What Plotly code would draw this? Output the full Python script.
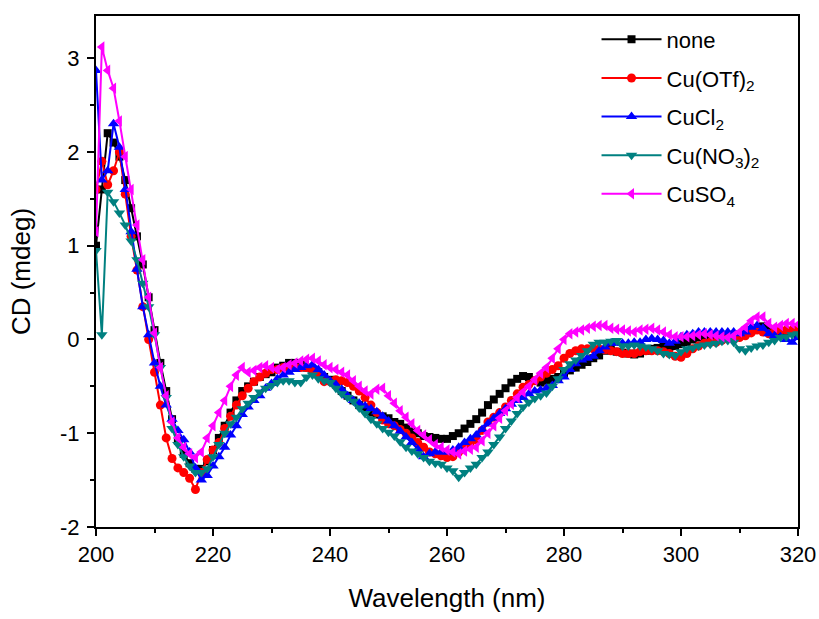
import plotly.graph_objects as go

wavelength = list(range(200, 321))

none_cd = [1.0, 1.6, 2.2, 2.1, 1.95, 1.7, 1.4, 1.1, 0.8, 0.45,
           0.1, -0.25, -0.55, -0.85, -1.08, -1.22, -1.32, -1.38, -1.38, -1.3,
           -1.18, -1.05, -0.92, -0.78, -0.65, -0.55, -0.5, -0.45, -0.4, -0.37,
           -0.35, -0.3, -0.28, -0.25, -0.25, -0.27, -0.3, -0.32, -0.35, -0.4,
           -0.43, -0.48, -0.55, -0.6, -0.65, -0.7, -0.74, -0.78, -0.8, -0.82,
           -0.84, -0.88, -0.9, -0.94, -0.98, -1.0, -1.03, -1.04, -1.05, -1.06,
           -1.06, -1.03, -1.0, -0.95, -0.9, -0.85, -0.78, -0.7, -0.64, -0.58,
           -0.52, -0.46, -0.42, -0.39, -0.4, -0.44, -0.46, -0.44, -0.42, -0.4,
           -0.36, -0.33, -0.3, -0.27, -0.24, -0.2, -0.17, -0.12, -0.1, -0.13,
           -0.14, -0.15, -0.16, -0.15, -0.12, -0.1, -0.09, -0.08, -0.08, -0.07,
           -0.05, -0.03, 0.0, 0.02, 0.03, 0.03, 0.02, 0.03, 0.04, 0.05,
           0.05, 0.07, 0.1, 0.12, 0.14, 0.1, 0.06, 0.05, 0.07, 0.08,
           0.05]

cuotf2_cd = [1.6, 1.9, 1.65, 1.8, 2.0, 1.55, 1.1, 0.74, 0.35, 0.0,
             -0.35, -0.7, -1.05, -1.27, -1.37, -1.42, -1.48, -1.6, -1.42, -1.28,
             -1.18, -1.1, -0.95, -0.82, -0.7, -0.6, -0.52, -0.45, -0.4, -0.36,
             -0.32, -0.32, -0.3, -0.3, -0.3, -0.3, -0.3, -0.32, -0.38, -0.45,
             -0.45, -0.43, -0.44, -0.46, -0.5, -0.55, -0.62, -0.7, -0.78, -0.86,
             -0.9, -0.92, -0.96, -1.0, -1.05, -1.1, -1.15, -1.2, -1.22, -1.24,
             -1.26, -1.25, -1.2, -1.15, -1.1, -1.07, -0.97, -0.88, -0.83, -0.78,
             -0.72, -0.65, -0.58, -0.51, -0.48, -0.44, -0.4, -0.36, -0.32, -0.28,
             -0.2, -0.15, -0.12, -0.1, -0.1, -0.1, -0.1, -0.11, -0.12, -0.13,
             -0.15, -0.15, -0.15, -0.13, -0.12, -0.12, -0.12, -0.13, -0.15, -0.18,
             -0.19, -0.15, -0.1, -0.07, -0.04, -0.03, -0.03, -0.01, 0.01, 0.02,
             0.02, 0.04, 0.07, 0.1, 0.08, 0.06, 0.08, 0.1, 0.1, 0.1,
             0.12]

cucl2_cd = [2.87, 1.7, 1.8, 2.3, 2.05, 1.6, 1.15, 0.75, 0.35, 0.05,
            -0.25, -0.5, -0.7, -0.85, -0.97, -1.07, -1.2, -1.37, -1.5, -1.45,
            -1.35, -1.25, -1.15, -1.02, -0.92, -0.8, -0.72, -0.65, -0.6, -0.52,
            -0.47, -0.42, -0.38, -0.35, -0.32, -0.3, -0.28, -0.27, -0.32, -0.38,
            -0.44, -0.48, -0.53, -0.6, -0.65, -0.68, -0.71, -0.74, -0.77, -0.82,
            -0.87, -0.92, -0.98, -1.04, -1.1, -1.17, -1.25, -1.22, -1.2, -1.2,
            -1.2, -1.18, -1.15, -1.1, -1.06, -1.02, -0.96, -0.9, -0.84, -0.79,
            -0.74, -0.69, -0.65, -0.62, -0.58, -0.55, -0.54, -0.52, -0.49, -0.44,
            -0.4, -0.32, -0.26, -0.22, -0.2, -0.18, -0.12, -0.08, -0.04, -0.04,
            -0.04, -0.04, -0.03, -0.03, 0.0, 0.01, 0.0, -0.01, -0.04, -0.02,
            0.03, 0.05, 0.06, 0.08, 0.08, 0.08, 0.08, 0.08, 0.08, 0.08,
            0.06, 0.08, 0.13, 0.15, 0.12, 0.06, 0.04, 0.03, 0.0, -0.03,
            0.02]

cuno32_cd = [0.95, 0.05, 1.57, 1.47, 1.35, 1.22, 1.05, 0.85, 0.6, 0.35,
             0.05, -0.3, -0.62, -0.95, -1.12, -1.25, -1.35, -1.42, -1.42, -1.38,
             -1.25, -1.12, -1.0, -0.9, -0.83, -0.74, -0.68, -0.62, -0.56, -0.52,
             -0.49, -0.46, -0.44, -0.44, -0.46, -0.46, -0.4, -0.38, -0.42, -0.44,
             -0.46, -0.52, -0.58, -0.62, -0.66, -0.73, -0.79, -0.85, -0.9, -0.95,
             -0.99, -1.03, -1.09, -1.15, -1.19, -1.22, -1.26, -1.3, -1.32, -1.33,
             -1.37, -1.4, -1.47, -1.42, -1.37, -1.33, -1.26, -1.2, -1.12, -1.04,
             -0.95, -0.87, -0.79, -0.72, -0.67, -0.63, -0.6, -0.57, -0.5, -0.42,
             -0.32, -0.26, -0.22, -0.17, -0.12, -0.05, -0.03, -0.03, -0.02, -0.01,
             -0.07, -0.07, -0.06, -0.07, -0.08, -0.1, -0.12, -0.15, -0.16, -0.17,
             -0.13, -0.1, -0.09, -0.07, -0.06, -0.05, -0.04, -0.02, -0.01, -0.03,
             -0.1, -0.12, -0.09, -0.07, -0.06, -0.03, -0.01, 0.02, 0.03, 0.05,
             0.06]

cuso4_cd = [1.15, 3.12, 2.87, 2.68, 2.33, 1.95, 1.6, 1.22, 0.85, 0.45,
            0.07, -0.3, -0.6, -0.88, -1.05, -1.15, -1.22, -1.26, -1.2, -1.05,
            -0.92, -0.78, -0.65, -0.5, -0.38, -0.3, -0.35, -0.33, -0.3, -0.28,
            -0.3, -0.32, -0.3, -0.27, -0.25, -0.23, -0.21, -0.2, -0.23, -0.27,
            -0.3, -0.32, -0.35, -0.38, -0.44, -0.5, -0.55, -0.58, -0.53, -0.52,
            -0.6, -0.68, -0.76, -0.83, -0.9, -0.97, -1.02, -1.07, -1.12, -1.15,
            -1.18, -1.2, -1.22, -1.19, -1.17, -1.15, -1.08, -1.0, -0.92, -0.84,
            -0.76, -0.69, -0.62, -0.56, -0.5, -0.43, -0.36, -0.3, -0.2, -0.1,
            0.0, 0.06, 0.08, 0.1, 0.12, 0.14, 0.15, 0.15, 0.12, 0.11,
            0.1, 0.09, 0.08, 0.1, 0.11, 0.12, 0.1, 0.08, 0.05, 0.03,
            0.03, 0.03, 0.04, 0.05, 0.06, 0.05, 0.04, 0.03, 0.02, 0.04,
            0.08, 0.13, 0.2, 0.24, 0.24, 0.17, 0.13, 0.15, 0.17, 0.17,
            0.16]

series_names = ["none", "Cu(OTf)<sub>2</sub>", "CuCl<sub>2</sub>",
                "Cu(NO<sub>3</sub>)<sub>2</sub>", "CuSO<sub>4</sub>"]
series_values = [none_cd, cuotf2_cd, cucl2_cd, cuno32_cd, cuso4_cd]
series_colors = ["#000000", "#FF0000", "#0000FF", "#008080", "#FF00FF"]
series_symbols = ["square", "circle", "triangle-up", "triangle-down", "triangle-left"]
series_sizes = [8, 9, 10, 10, 10]

x_ticks = [200, 220, 240, 260, 280, 300, 320]
y_ticks = [-2, -1, 0, 1, 2, 3]
y_ticklabels = ["-2", "-1", "0", "1", "2", "3"]

FONT = "Arial, Liberation Sans, sans-serif"

fig = go.Figure()
for i, (name, vals, col, sym, sz) in enumerate(zip(series_names, series_values, series_colors,
                                                   series_symbols, series_sizes)):
    fig.add_trace(go.Scatter(
        x=wavelength, y=vals, name=name, mode="lines+markers",
        legendgroup="g%d" % i,
        line=dict(color=col, width=2),
        marker=dict(symbol=sym, size=sz, color=col, line=dict(width=0)),
    ))

axis_common = dict(
    showline=True, linecolor="black", linewidth=2, mirror=True,
    ticks="outside", ticklen=7, tickwidth=2, tickcolor="black",
    showgrid=False, zeroline=False, automargin=False,
    tickfont=dict(family=FONT, size=22, color="black"),
)

fig.update_layout(
    width=819, height=619,
    margin=dict(l=96, r=21, t=16, b=92),
    paper_bgcolor="white", plot_bgcolor="white",
    showlegend=True,
    legend=dict(
        x=0.713, y=0.995, xanchor="left", yanchor="top",
        bgcolor="rgba(0,0,0,0)", borderwidth=0,
        font=dict(family=FONT, size=22, color="black"),
        itemwidth=60, tracegroupgap=7,
    ),
    xaxis=dict(
        range=[200, 320], tickvals=x_ticks,
        title=dict(text="Wavelength (nm)", font=dict(family=FONT, size=26, color="black"), standoff=22),
        minor=dict(dtick=10, tick0=200, ticks="outside", ticklen=4, tickwidth=2, tickcolor="black"),
        **axis_common,
    ),
    yaxis=dict(
        range=[-2, 3.45], tickvals=y_ticks, ticktext=y_ticklabels,
        title=dict(text="CD (mdeg)", font=dict(family=FONT, size=26, color="black"), standoff=22),
        minor=dict(dtick=0.5, tick0=0, ticks="outside", ticklen=4, tickwidth=2, tickcolor="black"),
        ticklabelstandoff=3,
        **axis_common,
    ),
)

fig.write_html("out.html")
